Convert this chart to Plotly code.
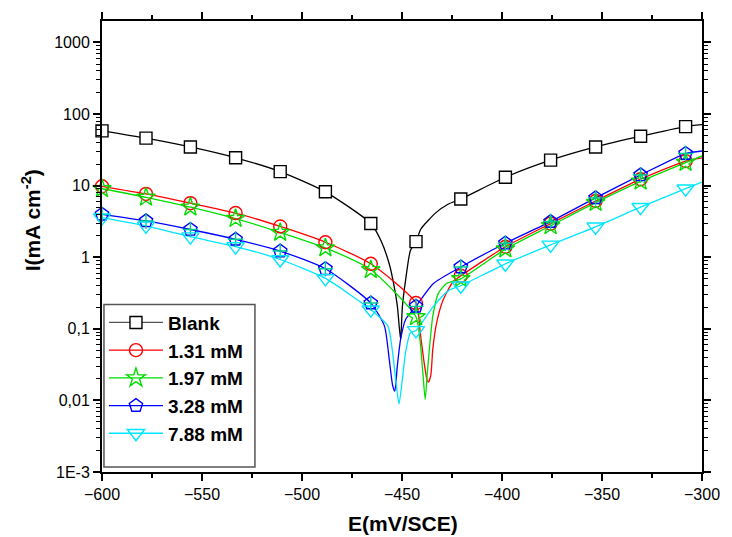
import plotly.graph_objects as go

# ---------------- data ----------------
E_MARK = [-600.0, -578.0, -555.8, -533.2, -510.9, -488.3, -465.6, -443.0,
          -420.6, -398.3, -375.7, -353.2, -330.7, -308.2]
E_END = -300.0

SERIES = ["Blank", "1.31 mM", "1.97 mM", "3.28 mM", "7.88 mM"]

I_BLANK = [58.3, 46.1, 34.7, 24.5, 15.7, 8.2, 2.96, 1.65, 6.5, 13.1, 22.7, 34.7, 49.0, 66.8]
I_131 = [9.8, 7.66, 5.69, 4.14, 2.69, 1.62, 0.81, 0.229, 0.55, 1.40, 2.95, 6.1, 12.3, 22.0]
I_197 = [9.06, 6.88, 5.01, 3.47, 2.22, 1.35, 0.67, 0.147, 0.50, 1.30, 2.75, 5.8, 11.5, 21.0]
I_328 = [3.97, 3.21, 2.44, 1.78, 1.22, 0.69, 0.229, 0.206, 0.73, 1.57, 3.15, 6.75, 14.1, 28.1]
I_788 = [3.58, 2.74, 1.94, 1.41, 0.93, 0.506, 0.185, 0.095, 0.40, 0.81, 1.49, 2.66, 5.0, 9.06]

I_END = [71.0, 24.5, 26.0, 30.5, 11.2]

# extra curve points around the corrosion-potential dips
E_DIP_BLANK = [-460.5, -456.4, -453.9, -452.3, -450.7, -449.8, -448.2, -445.8, -440.5, -433.0, -427.0]
I_DIP_BLANK = [1.70, 0.81, 0.39, 0.206, 0.071, 0.206, 0.48, 1.24, 2.5, 4.2, 5.5]

E_DIP_131 = [-440.9, -439.2, -437.6, -436.8, -435.6, -434.6, -432.7, -429.4, -424.5]
I_DIP_131 = [0.089, 0.038, 0.020, 0.018, 0.0224, 0.052, 0.121, 0.254, 0.455]

E_DIP_197 = [-440.9, -439.6, -438.4, -437.3, -436.0, -434.6, -431.9, -427.8]
I_DIP_197 = [0.065, 0.025, 0.0103, 0.025, 0.065, 0.15, 0.31, 0.43]

E_DIP_328 = [-458.8, -456.4, -454.7, -453.6, -452.3, -450.7, -448.2, -434.3]
I_DIP_328 = [0.11, 0.038, 0.0163, 0.0135, 0.031, 0.071, 0.135, 0.43]

E_DIP_788 = [-457.1, -454.7, -453.0, -451.5, -449.8, -448.2, -445.8, -434.3, -426.2]
I_DIP_788 = [0.11, 0.047, 0.018, 0.0089, 0.020, 0.047, 0.088, 0.206, 0.35]

Y_TICKS = [1e-3, 1e-2, 1e-1, 1, 10, 100, 1000]
Y_TICKTEXT = ["1E-3", "0,01", "0,1", "1", "10", "100", "1000"]

X_TITLE = "E(mV/SCE)"
Y_TITLE = "I(mA cm<sup>-2</sup>)"

# ---------------- styling ----------------
COLORS = ["#000000", "#ff0000", "#00dd00", "#0000ff", "#00e5ff"]
SYMBOLS = ["square", "circle-open", "star-open", "pentagon-open", "triangle-down-open"]
SIZES = [12, 13, 14, 14, 15]

marks = [I_BLANK, I_131, I_197, I_328, I_788]
dips = [(E_DIP_BLANK, I_DIP_BLANK), (E_DIP_131, I_DIP_131), (E_DIP_197, I_DIP_197),
        (E_DIP_328, I_DIP_328), (E_DIP_788, I_DIP_788)]

W, H = 732, 537
L, R, T, B = 102, 18, 14, 65
PW, PH = W - L - R, H - T - B

def px_x(px):
    return (px - L) / PW

def px_y(py):
    return (H - B - py) / PH

fig = go.Figure()
FONT = "Arial, Liberation Sans, sans-serif"

for k, name in enumerate(SERIES):
    pts = list(zip(E_MARK, marks[k])) + list(zip(*dips[k])) + [(E_END, I_END[k])]
    pts.sort()
    xs = [p[0] for p in pts]
    ys = [p[1] for p in pts]
    fig.add_trace(go.Scatter(x=xs, y=ys, mode="lines", line=dict(color=COLORS[k], width=1.3,
                             shape="spline", smoothing=0.6),
                             showlegend=False, hoverinfo="skip"))

for k, name in enumerate(SERIES):
    mk = dict(symbol=SYMBOLS[k], size=SIZES[k], color=COLORS[k],
              line=dict(color=COLORS[k], width=1.4))
    if k == 0:
        mk = dict(symbol="square", size=SIZES[k], color="white",
                  line=dict(color="#000000", width=1.4))
    fig.add_trace(go.Scatter(x=E_MARK, y=marks[k], mode="markers", marker=mk,
                             showlegend=False, cliponaxis=False))
    if k == 3:
        fig.add_trace(go.Scatter(x=E_MARK, y=marks[k], mode="markers",
                                 marker=dict(symbol="cross-thin-open", size=11,
                                             line=dict(color=COLORS[k], width=1.4)),
                                 showlegend=False, cliponaxis=False))
    # legend entry
    fig.add_trace(go.Scatter(x=[None], y=[None], mode="lines+markers", name=name,
                             marker=mk, line=dict(color=COLORS[k] if k else "#555555", width=1.3)))

# legend frame
fig.add_shape(type="rect", xref="paper", yref="paper",
              x0=px_x(104), x1=px_x(258), y0=px_y(467), y1=px_y(302),
              line=dict(color="#555555", width=1.5), fillcolor="white", layer="above")

fig.update_layout(
    width=W, height=H,
    margin=dict(l=L, r=R, t=T, b=B),
    plot_bgcolor="white", paper_bgcolor="white",
    font=dict(family=FONT, size=16, color="black"),
    legend=dict(x=px_x(104), xanchor="left", y=px_y(301), yanchor="top",
                borderwidth=0, bgcolor="rgba(0,0,0,0)",
                font=dict(family=FONT, size=19, color="black", weight="bold"),
                tracegroupgap=0, itemwidth=54),
    showlegend=True,
)

fig.add_annotation(text=Y_TITLE, xref="paper", yref="paper", x=px_x(30), y=px_y(216),
                   textangle=-90, showarrow=False, xanchor="center", yanchor="middle",
                   font=dict(family=FONT, size=21, color="black", weight="bold"))
fig.add_annotation(text=X_TITLE, xref="paper", yref="paper", x=px_x(409), y=px_y(524),
                   showarrow=False, xanchor="center", yanchor="middle",
                   font=dict(family=FONT, size=21, color="black", weight="bold"))

fig.update_xaxes(range=[-600, -300], dtick=50, tick0=-600,
                 showline=True, linecolor="black", linewidth=2, mirror="ticks",
                 ticks="outside", ticklen=7, tickwidth=1.5, tickcolor="black",
                 minor=dict(dtick=25, ticks="outside", ticklen=4, tickwidth=1.5, tickcolor="black"),
                 showgrid=False, zeroline=False,
                 tickfont=dict(size=16))

fig.update_yaxes(type="log", range=[-3, 3.3],
                 tickmode="array", tickvals=Y_TICKS, ticktext=Y_TICKTEXT,
                 showline=True, linecolor="black", linewidth=2, mirror="ticks",
                 ticks="outside", ticklen=7, tickwidth=1.5, tickcolor="black",
                 minor=dict(dtick="D1", ticks="outside", ticklen=4, tickwidth=1.2, tickcolor="black"),
                 showgrid=False, zeroline=False,
                 tickfont=dict(size=16))

fig.write_html("out.html")
